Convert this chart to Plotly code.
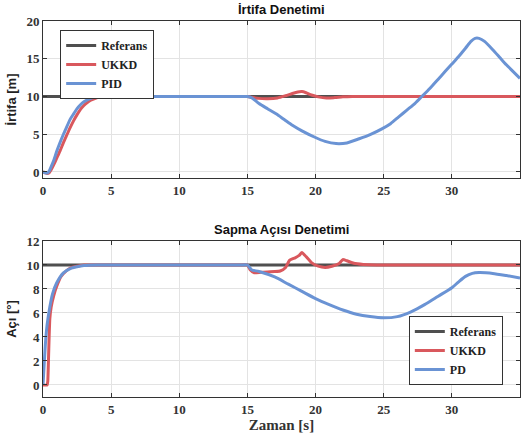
import plotly.graph_objects as go
from plotly.subplots import make_subplots

# ---- data ----
ref_t = [0, 35]
ref_irtifa = [10, 10]
ref_aci = [10, 10]

ukkd_irtifa_t = [0, 0.15, 0.3, 0.45, 0.6, 0.8, 1.0, 1.25, 1.5, 1.75, 2.0, 2.25, 2.5, 2.75, 3.0, 3.25, 3.5, 3.75,
                 4.0, 4.5, 5.0, 6, 7, 8, 9, 10, 11, 12, 13, 14, 14.5, 15.0, 15.3, 15.8, 16.5, 17.2, 17.8, 18.3,
                 18.7, 19.0, 19.3, 19.7, 20.2, 20.8, 21.4, 22.0, 22.7, 23.5, 24.5, 26, 28, 30, 32, 34, 35]
ukkd_irtifa = [0, -0.1, -0.2, -0.1, 0.3, 1.0, 1.8, 2.8, 3.9, 4.9, 5.9, 6.8, 7.6, 8.3, 8.8, 9.2, 9.5, 9.7,
               9.85, 9.97, 10, 10, 10, 10, 10, 10, 10, 10, 10, 10, 10, 10, 9.9, 9.75, 9.7, 9.8, 10.1, 10.4,
               10.6, 10.65, 10.5, 10.2, 9.95, 9.8, 9.85, 9.95, 10.0, 10.0, 10, 10, 10, 10, 10, 10, 10]

pid_irtifa_t = [0, 0.15, 0.3, 0.45, 0.6, 0.8, 1.0, 1.25, 1.5, 1.75, 2.0, 2.25, 2.5, 2.75, 3.0, 3.5, 4.0, 4.5, 5.0,
                6, 7, 8, 9, 10, 11, 12, 13, 14, 14.5,
                15.0, 15.3, 15.85, 16.5, 17.1, 17.7, 18.3, 19.0, 19.95, 20.7, 21.5, 22.3, 23.2, 24.0, 24.9,
                25.5, 26.1, 26.7, 27.3, 27.8, 28.4, 29.0, 29.5, 30.0, 30.5, 31.0, 31.4, 31.7, 32.0, 32.4,
                33.0, 33.5, 34.0, 34.5, 35.0]
pid_irtifa = [0, -0.1, -0.15, 0.1, 0.7, 1.6, 2.7, 3.9, 5.0, 6.0, 7.0, 7.7, 8.4, 8.9, 9.3, 9.75, 9.92, 9.98, 10,
              10, 10, 10, 10, 10, 10, 10, 10, 10, 10,
              10, 9.85, 9.06, 8.35, 7.7, 6.95, 6.2, 5.45, 4.6, 4.05, 3.76, 3.85, 4.4, 4.95, 5.75,
              6.4, 7.3, 8.2, 9.1, 10.0, 11.1, 12.3, 13.3, 14.3, 15.3, 16.4, 17.3, 17.7, 17.7, 17.3,
              16.2, 15.2, 14.2, 13.3, 12.4]

ukkd_aci_t = [0, 0.3, 0.35, 0.4, 0.45, 0.5, 0.6, 0.8, 1.0, 1.3, 1.7, 2.0, 2.5, 3.0, 4, 5, 6, 7, 8, 9, 10, 11, 12,
              13, 14, 14.5, 15.0, 15.2, 15.5, 16.0, 17.0, 17.4, 17.8, 18.1, 18.5, 18.8, 19.0, 19.3, 19.7, 20.2,
              20.7, 21.2, 21.7, 22.0, 22.3, 22.8, 23.5, 24.5, 26, 28, 30, 32, 34, 35]
ukkd_aci = [0, 0, 0.3, 2, 4, 5.5, 6.5, 7.5, 8.2, 9.0, 9.5, 9.75, 9.9, 10, 10, 10, 10, 10, 10, 10, 10, 10, 10,
            10, 10, 10, 10, 9.6, 9.35, 9.4, 9.45, 9.5, 9.8, 10.4, 10.6, 10.8, 11.05, 10.7, 10.2, 9.9,
            9.8, 9.9, 10.1, 10.45, 10.35, 10.15, 10.05, 10.0, 10, 10, 10, 10, 10, 10]

pd_aci_t = [0, 0.1, 0.2, 0.3, 0.5, 0.7, 1.0, 1.5, 2.0, 2.5, 3.0, 4.0, 5, 6, 7, 8, 9, 10, 11, 12, 13, 14, 14.5,
            15.0, 15.3, 15.85, 17, 18, 19, 20, 21, 22, 23, 24, 25, 26, 27, 28, 29, 30, 30.5, 31, 31.5, 32,
            32.5, 33, 34, 35]
pd_aci = [0, 2, 3.8, 5, 6.5, 7.6, 8.5, 9.35, 9.7, 9.85, 9.95, 10, 10, 10, 10, 10, 10, 10, 10, 10, 10, 10, 10,
          10, 9.6, 9.46, 9.0, 8.4, 7.8, 7.2, 6.7, 6.25, 5.9, 5.7, 5.6, 5.7, 6.1, 6.7, 7.4, 8.1, 8.6, 9.05,
          9.3, 9.37, 9.35, 9.3, 9.12, 8.92]

x_ticks = [0, 5, 10, 15, 20, 25, 30, 35]
y1_ticks = [0, 5, 10, 15, 20]
y2_ticks = [0, 2, 4, 6, 8, 10, 12]

# ---- style ----
C_REF = "#4f4f4f"
C_RED = "#d9585d"
C_BLUE = "#6a93d4"
LW = 3
SERIF = "Liberation Serif, Times New Roman, Times, serif"
SANS = "Liberation Sans, Arial, sans-serif"

fig = make_subplots(rows=2, cols=1, vertical_spacing=0.1676)
fig.update_layout(
    yaxis=dict(domain=[0.5824, 1.0]),
    yaxis2=dict(domain=[0.0, 0.4149]),
)

def add(x, y, name, color, row, legend, shape="linear", smooth=None):
    line = dict(color=color, width=LW, shape=shape)
    if smooth is not None:
        line["smoothing"] = smooth
    fig.add_trace(go.Scatter(x=x, y=y, mode="lines", name=name, line=line, legend=legend), row=row, col=1)

add(ref_t, ref_irtifa, "Referans", C_REF, 1, "legend")
add(ukkd_irtifa_t, ukkd_irtifa, "UKKD", C_RED, 1, "legend", "spline", 0.7)
add(pid_irtifa_t, pid_irtifa, "PID", C_BLUE, 1, "legend", "spline", 0.7)
add(ref_t, ref_aci, "Referans", C_REF, 2, "legend2")
add(ukkd_aci_t, ukkd_aci, "UKKD", C_RED, 2, "legend2", "spline", 0.4)
add(pd_aci_t, pd_aci, "PD", C_BLUE, 2, "legend2", "spline", 0.7)

axis_common = dict(showline=True, linecolor="#333333", linewidth=1, mirror="ticks",
                   ticks="inside", ticklen=4, tickcolor="#333333",
                   showgrid=True, gridcolor="#e3e3e3", gridwidth=1, zeroline=False,
                   tickfont=dict(family=SERIF, size=13, color="#333333", weight="bold"))

fig.update_xaxes(**axis_common, range=[0, 35], tickvals=x_ticks)
fig.update_yaxes(**axis_common)
fig.update_yaxes(range=[-0.8, 20], tickvals=y1_ticks, row=1, col=1,
                 title=dict(text="İrtifa [m]", font=dict(family=SANS, size=13, color="#222", weight="bold"),
                            standoff=6))
fig.update_yaxes(range=[-1, 12], tickvals=y2_ticks, row=2, col=1,
                 title=dict(text="Açı [°]", font=dict(family=SANS, size=13, color="#222", weight="bold"),
                            standoff=6))
fig.update_xaxes(row=2, col=1,
                 title=dict(text="Zaman [s]", font=dict(family=SERIF, size=15, color="#333", weight="bold"),
                            standoff=2))

legend_common = dict(bgcolor="white", bordercolor="#333333", borderwidth=1,
                     font=dict(family=SERIF, size=12, color="#222", weight="bold"),
                     tracegroupgap=0, itemwidth=30)

fig.update_layout(
    width=525, height=442,
    margin=dict(l=43, r=5, t=21, b=45),
    paper_bgcolor="white", plot_bgcolor="white",
    legend=dict(**legend_common, x=0.036, y=0.976, xanchor="left", yanchor="top"),
    legend2=dict(**legend_common, x=0.964, y=0.032, xanchor="right", yanchor="bottom"),
    annotations=[
        dict(text="İrtifa Denetimi", x=0.5, y=1.0, xref="paper", yref="paper", xanchor="center",
             yanchor="bottom", yshift=2, showarrow=False,
             font=dict(family=SANS, size=13, color="#111", weight="bold")),
        dict(text="Sapma Açısı Denetimi", x=0.5, y=0.4149, xref="paper", yref="paper", xanchor="center",
             yanchor="bottom", yshift=2, showarrow=False,
             font=dict(family=SANS, size=13, color="#111", weight="bold")),
    ],
)

fig.write_html("out.html")
